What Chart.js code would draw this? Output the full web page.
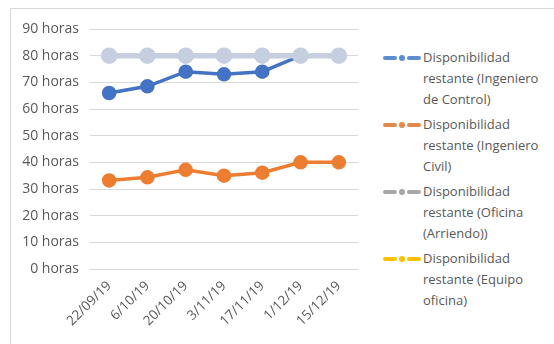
<!DOCTYPE html>
<html><head><meta charset="utf-8">
<script src="https://cdn.jsdelivr.net/npm/chart.js@4.4.1/dist/chart.umd.min.js"></script>
<style>
html,body{margin:0;padding:0;background:#fff;width:554px;height:344px;overflow:hidden;font-family:"Open Sans",Lato,sans-serif;}
#frame{position:absolute;left:10px;top:8px;width:600px;height:400px;border:1px solid #d9d9d9;box-sizing:border-box;}
#wrap{position:absolute;left:0;top:0;width:372px;height:344px;}
#legend{position:absolute;left:383px;top:47px;width:171px;}
.item{display:flex;align-items:flex-start;margin-bottom:4px;}
.mk{position:relative;width:38px;height:21px;flex:none;margin-right:2px;}
.mk .l{position:absolute;top:9px;height:4px;border-radius:2px;}
.mk .d{position:absolute;top:8px;left:16px;width:6px;height:6px;border-radius:3px;}
.tx{font-size:13px;line-height:21px;color:#595959;width:130px;}
</style></head>
<body>
<div id="frame"></div>
<div id="wrap"><canvas id="c" width="372" height="344"></canvas></div>
<div id="legend"></div>
<script>
const categories = ["22/09/19","6/10/19","20/10/19","3/11/19","17/11/19","1/12/19","15/12/19"];
const seriesNames = [
  "Disponibilidad restante (Ingeniero de Control)",
  "Disponibilidad restante (Ingeniero Civil)",
  "Disponibilidad restante (Oficina (Arriendo))",
  "Disponibilidad restante (Equipo oficina)"
];
const ingControl = [66, 68.5, 74, 73, 74, 80, 80];
const ingCivil = [33.2, 34.4, 37.2, 35, 36.1, 40, 40];
const oficina = [80, 80, 80, 80, 80, 80, 80];
const equipo = [null, null, null, null, null, null, null];
const yTicks = [0,10,20,30,40,50,60,70,80,90];

const colors = ["#4472C4","#ED7D31","#C5CFE0","#FFC000"];
const legendColors = ["#5B8ED2","#E4874A","#A8A8A8","#FFC000"];
const values = [ingControl, ingCivil, oficina, equipo];
const orders = [2, 3, 1, 0];
const widths = [3.5, 3.5, 5.5, 3.5];

const datasets = values.map((v,i)=>({
  label: seriesNames[i],
  data: v,
  borderColor: colors[i],
  backgroundColor: colors[i],
  pointBackgroundColor: colors[i],
  pointBorderColor: colors[i],
  pointRadius: 5.5,
  pointHoverRadius: 5.5,
  borderWidth: widths[i],
  order: orders[i],
  tension: 0,
  spanGaps: false
}));

new Chart(document.getElementById('c'), {
  type: 'line',
  data: { labels: categories, datasets },
  options: {
    responsive: false,
    animation: false,
    layout: { padding: { top: 29, right: 14, left: 0, bottom: 0 } },
    plugins: { legend: { display: false }, tooltip: { enabled: false } },
    scales: {
      x: {
        offset: true,
        grid: { display: false, drawTicks: false },
        border: { display: false },
        ticks: { color: '#595959', font: { family: 'Open Sans', size: 13.5 }, maxRotation: 45, minRotation: 45, padding: 9, autoSkip: false },
        afterFit: s => { s.height = 75; }
      },
      y: {
        min: 0, max: 90,
        afterBuildTicks: s => { s.ticks = yTicks.map(v => ({ value: v })); },
        grid: { color: '#d9d9d9', drawTicks: false, lineWidth: 1 },
        border: { display: false },
        ticks: { color: '#595959', font: { family: 'Open Sans', size: 14 }, padding: 11, callback: v => v + ' horas' },
        afterFit: s => { s.width = 90; }
      }
    }
  }
});

const lg = document.getElementById('legend');
seriesNames.forEach((n,i)=>{
  const it = document.createElement('div'); it.className = 'item';
  const mk = document.createElement('div'); mk.className = 'mk';
  mk.innerHTML = '<span class="l" style="left:0;width:14px;background:'+legendColors[i]+'"></span>' +
    '<span class="d" style="background:'+legendColors[i]+'"></span>' +
    '<span class="l" style="left:24px;width:14px;background:'+legendColors[i]+'"></span>';
  const tx = document.createElement('div'); tx.className = 'tx'; tx.textContent = n;
  it.appendChild(mk); it.appendChild(tx); lg.appendChild(it);
});
</script>
</body></html>
